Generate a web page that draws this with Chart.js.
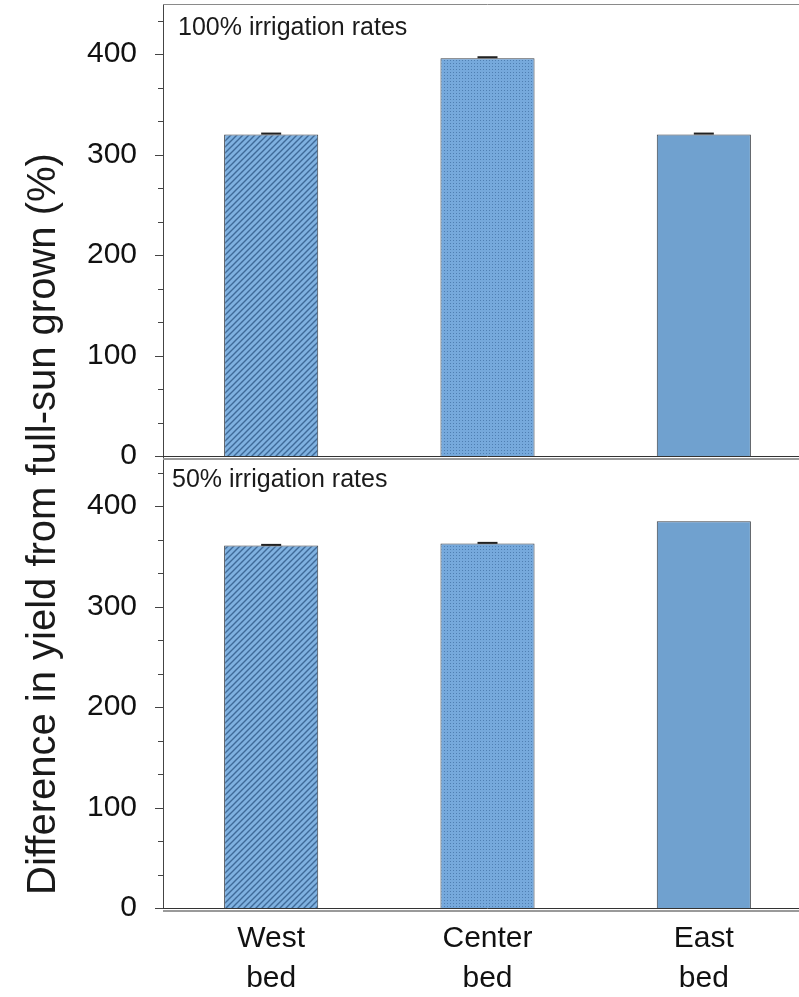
<!DOCTYPE html>
<html>
<head>
<meta charset="utf-8">
<script src="https://cdn.jsdelivr.net/npm/chart.js@4"></script>
<style>
  html, body { margin: 0; padding: 0; background: #fff; overflow: hidden; }
  #wrap { position: absolute; left: 0; top: 0; width: 812px; height: 997px; }
</style>
</head>
<body>
<div id="wrap"><canvas id="yieldChart"></canvas></div>
<script>
const beds = [['West', 'bed'], ['Center', 'bed'], ['East', 'bed']];
const fullRate = [320, 396, 320];     // 100% irrigation
const fullRateErr = [2, 2, 2];
const halfRate = [361, 363, 385];     // 50% irrigation
const halfRateErr = [1.5, 1.5, 0];
const panelTitles = ['100% irrigation rates', '50% irrigation rates'];
const yTitle = 'Difference in yield from full-sun grown (%)';

const FONT = "'Liberation Sans', Arial, sans-serif";

// fill tiles: hatched, stippled, plain
function hatch() {
    const c = document.createElement('canvas');
    c.width = 6; c.height = 6;
    const g = c.getContext('2d');
    g.fillStyle = '#7fb1e0';
    g.fillRect(0, 0, 6, 6);
    g.strokeStyle = '#3f6a98';
    g.lineWidth = 1.4;
    g.beginPath();
    g.moveTo(-1, 7); g.lineTo(7, -1);
    g.moveTo(-1, 1); g.lineTo(1, -1);
    g.moveTo(5, 7); g.lineTo(7, 5);
    g.stroke();
    return g.createPattern(c, 'repeat');
}
function dots() {
    const c = document.createElement('canvas');
    c.width = 3; c.height = 3;
    const g = c.getContext('2d');
    g.fillStyle = '#76a9dc';
    g.fillRect(0, 0, 3, 3);
    g.fillStyle = '#4f7fb2';
    g.fillRect(0, 0, 1, 1);
    return g.createPattern(c, 'repeat');
}
const fills = [hatch(), dots(), '#70a1cf'];

function thirds(scale) {
    const t = [];
    for (let k = 0; k <= 13; k++) t.push({ value: k * 100 / 3 });
    scale.ticks = t;
}
const tickLabel = v => (Math.abs(v - Math.round(v / 100) * 100) < 0.01 ? Math.round(v) : '');

function yScale(weight) {
    return {
        type: 'linear',
        position: 'left',
        stack: 'panels',
        stackWeight: 1,
        weight: weight,
        min: 0,
        max: 450,
        afterBuildTicks: thirds,
        afterFit: s => {
            s.width = 163;
            s.paddingTop = 0;
            s.paddingBottom = 0;
        },
        grid: { display: false, drawTicks: false },
        border: { color: '#444', width: 1 },
        ticks: {
            padding: 26,
            color: '#111',
            font: { family: FONT, size: 30 },
            autoSkip: false,
            callback: tickLabel
        }
    };
}

const panelDecor = {
    id: 'panelDecor',
    afterDatasetsDraw(chart) {
        const ctx = chart.ctx;
        const area = chart.chartArea;
        const yT = chart.scales.yTop, yB = chart.scales.yBottom;
        ctx.save();

        // error caps
        [['yTop', fullRate, fullRateErr, 0], ['yBottom', halfRate, halfRateErr, 1]].forEach(([id, vals, errs, di]) => {
            const sc = chart.scales[id];
            chart.getDatasetMeta(di).data.forEach((bar, i) => {
                if (!errs[i]) return;
                const y1 = sc.getPixelForValue(vals[i] + errs[i]);
                const y0 = sc.getPixelForValue(vals[i]);
                ctx.fillStyle = '#222';
                ctx.fillRect(bar.x - 10, y1, 20, Math.max(2, y0 - y1));
            });
        });

        // y ticks, major and minor
        ctx.strokeStyle = '#444';
        ctx.lineWidth = 1;
        [yT, yB].forEach(sc => {
            sc.ticks.forEach(t => {
                const py = Math.round(sc.getPixelForValue(t.value)) + 0.5;
                const len = tickLabel(t.value) === '' ? 5 : 8;
                ctx.beginPath();
                ctx.moveTo(area.left - len, py);
                ctx.lineTo(area.left, py);
                ctx.stroke();
            });
        });

        // top frame line
        ctx.strokeStyle = '#8a8a8a';
        ctx.beginPath();
        ctx.moveTo(area.left, area.top + 0.5);
        ctx.lineTo(area.right, area.top + 0.5);
        ctx.stroke();

        // baselines of both panels with their grey rule underneath
        [yT, yB].forEach(sc => {
            const py = Math.round(sc.getPixelForValue(0));
            ctx.strokeStyle = '#333';
            ctx.lineWidth = 1;
            ctx.beginPath();
            ctx.moveTo(area.left, py + 0.5);
            ctx.lineTo(area.right, py + 0.5);
            ctx.stroke();
            ctx.strokeStyle = '#9a9a9a';
            ctx.lineWidth = 2;
            ctx.beginPath();
            ctx.moveTo(area.left, py + 3);
            ctx.lineTo(area.right, py + 3);
            ctx.stroke();
        });

        // panel labels
        ctx.fillStyle = '#1a1a1a';
        ctx.font = '25px ' + FONT;
        ctx.textBaseline = 'middle';
        ctx.textAlign = 'left';
        ctx.fillText(panelTitles[0], area.left + 15, yT.top + 24);
        ctx.fillText(panelTitles[1], area.left + 9, yB.top + 24);

        // shared y title
        ctx.font = '40px ' + FONT;
        ctx.textAlign = 'center';
        ctx.translate(44, 524);
        ctx.rotate(-Math.PI / 2);
        ctx.fillText(yTitle, 0, 0);
        ctx.restore();
    }
};

new Chart(document.getElementById('yieldChart'), {
    type: 'bar',
    data: {
        labels: beds,
        datasets: [
            {
                label: panelTitles[0],
                data: fullRate,
                yAxisID: 'yTop',
                backgroundColor: fills,
                borderColor: '#3a3f46',
                borderWidth: 1,
                grouped: false,
                barPercentage: 0.435,
                categoryPercentage: 1
            },
            {
                label: panelTitles[1],
                data: halfRate,
                yAxisID: 'yBottom',
                backgroundColor: fills,
                borderColor: '#3a3f46',
                borderWidth: 1,
                grouped: false,
                barPercentage: 0.435,
                categoryPercentage: 1
            }
        ]
    },
    options: {
        responsive: true,
        maintainAspectRatio: false,
        animation: false,
        layout: { padding: { top: 4, left: 0, right: 0, bottom: 0 } },
        scales: {
            x: {
                type: 'category',
                afterFit: s => {
                    s.height = 89;
                    s.paddingLeft = 0;
                    s.paddingRight = 0;
                },
                grid: { display: false, drawTicks: false },
                border: { display: false },
                ticks: {
                    padding: 10,
                    color: '#111',
                    font: { family: FONT, size: 30, lineHeight: 1.35 }
                }
            },
            yBottom: yScale(1),
            yTop: yScale(1)
        },
        plugins: {
            legend: { display: false },
            tooltip: { enabled: false }
        }
    },
    plugins: [panelDecor]
});
</script>
</body>
</html>
